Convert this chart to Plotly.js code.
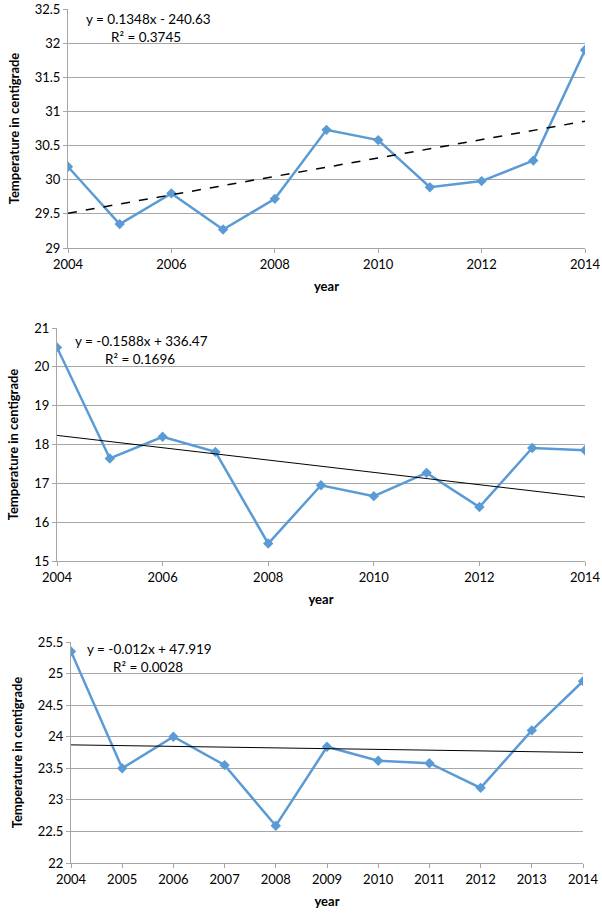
<!DOCTYPE html>
<html><head><meta charset="utf-8">
<script src="https://cdn.plot.ly/plotly-3.0.1.min.js"></script>
<style>html,body{margin:0;padding:0;background:#fff}#chart{width:602px;height:913px}</style>
</head><body><div id="chart"></div>
<script>
const years = [2004,2005,2006,2007,2008,2009,2010,2011,2012,2013,2014];
const tempA = [30.19,29.35,29.80,29.27,29.72,30.73,30.58,29.89,29.98,30.28,31.90];
const tempB = [20.50,17.64,18.20,17.81,15.45,16.95,16.67,17.27,16.39,17.91,17.85];
const tempC = [25.35,23.50,24.00,23.55,22.59,23.84,23.62,23.58,23.19,24.10,24.88];
// trendline coefficients as printed on the chart
const trendA = {slope: 0.1348, intercept: -240.63, r2: '0.3745'};
const trendB = {slope: -0.1588, intercept: 336.47, r2: '0.1696'};
const trendC = {slope: -0.012, intercept: 47.919, r2: '0.0028'};
const eqA = 'y = 0.1348x - 240.63', eqB = 'y = -0.1588x + 336.47', eqC = 'y = -0.012x + 47.919';

const W = 602, H = 913;
const FONT = 'Lato, "Open Sans", sans-serif';
const blue = '#5B9BD5';
const axisGray = '#a6a6a6';
const trendX = [years[0], years[years.length-1]];
function tline(t){ return trendX.map(x => t.slope*x + t.intercept); }

function series(y, xa, ya){
  return {x: years, y: y, xaxis: xa, yaxis: ya, type:'scatter', mode:'lines+markers',
    line:{color:blue, width:2.5}, marker:{symbol:'diamond', size:8, color:blue}, showlegend:false, hoverinfo:'x+y'};
}
function trend(t, xa, ya, dash, w){
  return {x: trendX, y: tline(t), xaxis: xa, yaxis: ya, type:'scatter', mode:'lines',
    line:{color:'#000', width:w, dash:dash}, showlegend:false, hoverinfo:'skip'};
}

const px = (a,b)=>[a/W, b/W];
const py = (top,bot)=>[(H-bot)/H, (H-top)/H];

function xax(dom, dtick, anchor){
  return {domain: dom, anchor: anchor, range:[2004,2014], dtick: dtick, tick0:2004,
    showgrid:false, zeroline:false, showline:true, linecolor:axisGray, linewidth:1,
    ticks:'outside', ticklen:4, tickcolor:axisGray, tickfont:{family:FONT, size:13, color:'#000'},
    title:{text:'<b>year</b>', font:{family:FONT, size:13, color:'#000'}, standoff:11}, automargin:false};
}
function yax(dom, range, dtick, anchor, standoff){
  return {domain: dom, anchor: anchor, range: range, dtick: dtick,
    showgrid:true, gridcolor:axisGray, gridwidth:1, zeroline:false, showline:true, linecolor:axisGray, linewidth:1,
    ticks:'outside', ticklen:4, tickcolor:axisGray, tickfont:{family:FONT, size:13, color:'#000'},
    title:{text:'<b>Temperature in centigrade</b>', font:{family:FONT, size:13, color:'#000'}, standoff:standoff}, automargin:false};
}

const data = [
  series(tempA,'x','y'), trend(trendA,'x','y','dash',1.5),
  series(tempB,'x2','y2'), trend(trendB,'x2','y2','solid',1),
  series(tempC,'x3','y3'), trend(trendC,'x3','y3','solid',1)
];

function ann(text, x, y){
  return {text: text, x: x/W, y: (H-y)/H, xref:'paper', yref:'paper', showarrow:false,
    xanchor:'left', yanchor:'middle', font:{family:FONT, size:13.5, color:'#000'}};
}

const layout = {
  width: W, height: H, margin:{l:0,r:0,t:0,b:0}, paper_bgcolor:'#fff', plot_bgcolor:'#fff',
  xaxis: xax(px(68,585), 2, 'y'),
  yaxis: yax(py(9,248), [29,32.5], 0.5, 'x', 12),
  xaxis2: xax(px(57,585), 2, 'y2'),
  yaxis2: yax(py(328,561), [15,21], 1, 'x2', 12),
  xaxis3: xax(px(71,583), 1, 'y3'),
  yaxis3: yax(py(642,863), [22,25.5], 0.5, 'x3', 12),
  annotations: [
    ann(eqA, 84, 19), ann('R² = ' + trendA.r2, 109, 37),
    ann(eqB, 73, 341), ann('R² = ' + trendB.r2, 103, 359),
    ann(eqC, 85, 649), ann('R² = ' + trendC.r2, 111, 667)
  ]
};
Plotly.newPlot('chart', data, layout, {displayModeBar:false, staticPlot:true});
</script></body></html>
